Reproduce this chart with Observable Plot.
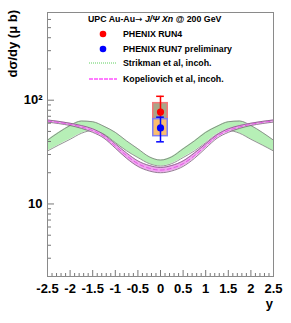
<!DOCTYPE html>
<html><head><meta charset="utf-8">
<script src="https://cdn.jsdelivr.net/npm/d3@7"></script>
<script src="https://cdn.jsdelivr.net/npm/@observablehq/plot@0.6"></script>
<style>
body{margin:0;background:#fff;}
#wrap{position:relative;width:291px;height:323px;overflow:hidden;}
#wrap svg{position:absolute;left:0;top:0;}
</style></head><body><div id="wrap"></div>
<script>
// rapidity grid of the theory bands
const rapidity     = [-2.5,-2.25,-2,-1.75,-1.5,-1.25,-1,-0.75,-0.5,-0.25,0,0.25,0.5,0.75,1,1.25,1.5,1.75,2,2.25,2.5];
// Strikman et al, incoh. (band low / high edge, μb)
const strikmanLo   = [32.4,37,42,48,51,47,39,32.5,28,24.5,23.2,24.5,28,32.5,39,47,51,48,42,37,32.4];
const strikmanHi   = [41.2,49,57,63,62,56,49,40.5,34,28.5,26.5,28.5,34,40.5,49,56,62,63,57,49,41.2];
// Kopeliovich et al, incoh.
const kopLo        = [61.5,59.5,57,53.5,49,43,34.5,27.5,23,20.8,20,20.8,23,27.5,34.5,43,49,53.5,57,59.5,61.5];
const kopHi        = [64.5,62.5,60,57,53,46.5,38,31,26,23.5,22.5,23.5,26,31,38,46.5,53,57,60,62.5,64.5];
// PHENIX measurements
const experiments  = ["PHENIX RUN4","PHENIX RUN7 preliminary"];
const expRapidity  = [0, 0];
const expValue     = [77, 54];
const expStatLo    = [47, 39.7];
const expStatHi    = [109, 68.6];
const expSysLo     = [65.6, 45];
const expSysHi     = [93.6, 65.6];
// axis ticks
const xTickLabels  = [-2.5,-2,-1.5,-1,-0.5,0,0.5,1,1.5,2,2.5];
const yTickLabels  = [10, 100];

const expColor  = ["#ff0000", "#0000ff"];
const boxFill   = ["#a9a688", "#fbbd6e"];
const boxStroke = ["#f27878", "#7f7ff5"];
const boxHalf = 0.16, capHalf = 0.085;

const strikman = rapidity.map((x,i)=>({x, lo:strikmanLo[i], hi:strikmanHi[i]}));
const kop = rapidity.map((x,i)=>({x, lo:kopLo[i], hi:kopHi[i], mid:Math.sqrt(kopLo[i]*kopHi[i])}));
const exps = experiments.map((name,i)=>({name, i, x:expRapidity[i], v:expValue[i], sl:expStatLo[i], sh:expStatHi[i], yl:expSysLo[i], yh:expSysHi[i]}));

const xMinor = d3.range(-25, 26).map(d=>d/10).filter(d=>!xTickLabels.some(t=>Math.abs(t-d)<1e-9));
const yMinor = [2,3,4,5,6,7,8,9,20,30,40,50,60,70,80,90,200,300,400,500,600,700];
const FH = 323-12-47, FW = 291-47-18;
const curve = "monotone-x";

const expMarks = [];
exps.forEach(e=>{
  const d=[e];
  expMarks.push(
    Plot.rect(d,{x1:r=>r.x-boxHalf, x2:r=>r.x+boxHalf, y1:"yl", y2:"yh", fill:boxFill[e.i], stroke:boxStroke[e.i], strokeWidth:1.5}),
    Plot.ruleX(d,{x:"x", y1:"sl", y2:"sh", stroke:expColor[e.i], strokeWidth:1.5}),
    Plot.ruleY(d,{y:"sh", x1:r=>r.x-capHalf, x2:r=>r.x+capHalf, stroke:expColor[e.i], strokeWidth:1.5}),
    Plot.ruleY(d,{y:"sl", x1:r=>r.x-capHalf, x2:r=>r.x+capHalf, stroke:expColor[e.i], strokeWidth:1.5}),
    Plot.dot(d,{x:"x", y:"v", r:3.6, fill:expColor[e.i]})
  );
});

const chart = Plot.plot({
  width:291, height:323, marginLeft:47, marginRight:18, marginTop:12, marginBottom:47,
  x:{domain:[-2.5,2.5]},
  y:{type:"log", domain:[2,700]},
  style:{fontFamily:"'Liberation Sans', Arial, sans-serif", fontWeight:"bold", fontSize:"13px", background:"transparent", color:"#000"},
  marks:[
    Plot.areaY(strikman,{x:"x", y1:"lo", y2:"hi", fill:"#b6efb6", curve}),
    Plot.lineY(strikman,{x:"x", y:"lo", stroke:"#7a7a7a", strokeWidth:0.8, curve}),
    Plot.lineY(strikman,{x:"x", y:"hi", stroke:"#7a7a7a", strokeWidth:0.8, curve}),
    Plot.areaY(kop,{x:"x", y1:"lo", y2:"hi", fill:"#f0a6f0", curve}),
    Plot.lineY(kop,{x:"x", y:"lo", stroke:"#7a5a7a", strokeWidth:0.8, curve}),
    Plot.lineY(kop,{x:"x", y:"hi", stroke:"#7a5a7a", strokeWidth:0.8, curve}),
    Plot.lineY(kop,{x:"x", y:"mid", stroke:"#e040e0", strokeWidth:0.8, strokeDasharray:"4,3", curve}),
    ...expMarks,
    Plot.tickX(xTickLabels,{x:d=>d, insetTop:FH-6, stroke:"#777"}),
    Plot.tickX(xMinor,{x:d=>d, insetTop:FH-3, stroke:"#777"}),
    Plot.tickY(yTickLabels,{y:d=>d, insetRight:FW-7, stroke:"#777"}),
    Plot.tickY(yMinor,{y:d=>d, insetRight:FW-4, stroke:"#777"}),
    Plot.frame({stroke:"#8a8a8a"}),
    Plot.axisX({ticks:xTickLabels, tickSize:0, tickPadding:7, tickFormat:d=>String(d), label:null}),
    Plot.axisY({ticks:yTickLabels, tickSize:0, tickPadding:5, tickFormat:d=>d===100?"10²":"10", label:null})
  ]
});
const wrap = document.getElementById("wrap");
wrap.appendChild(chart);

// overlay: axis titles and legend
const ov = d3.select(wrap).append("svg").attr("width",291).attr("height",323)
  .style("font-family","'Liberation Sans', Arial, sans-serif").style("font-weight","bold").style("pointer-events","none");
ov.append("text").attr("transform","translate(17,10) rotate(-90)").attr("text-anchor","end")
  .style("font-size","13px").text("dσ/dy (μ b)");
ov.append("text").attr("x",273).attr("y",308).attr("text-anchor","end").style("font-size","13px").text("y");

const t = ov.append("text").attr("x",88).attr("y",22).style("font-size","8.8px");
t.append("tspan").text("UPC Au-Au");
t.append("tspan").style("font-family","'DejaVu Sans'").style("font-weight","normal").text("→");
t.append("tspan").text(" ");
t.append("tspan").style("font-style","italic").text("J/Ψ Xn");
t.append("tspan").text(" @ 200 GeV");

const legendItems = ["PHENIX RUN4","PHENIX RUN7 preliminary","Strikman et al, incoh.","Kopeliovich et al, incoh."];
const legendY = [34, 49, 63, 79];
legendItems.forEach((s,i)=>{
  ov.append("text").attr("x",123).attr("y",legendY[i]+3).style("font-size","8.8px").text(s);
});
ov.append("circle").attr("cx",103).attr("cy",34).attr("r",3.3).attr("fill","#ff0000");
ov.append("circle").attr("cx",103).attr("cy",49).attr("r",3.3).attr("fill","#0000ff");
ov.append("line").attr("x1",89).attr("x2",117).attr("y1",63).attr("y2",63).attr("stroke","#5fcf5f").attr("stroke-width",1).attr("stroke-dasharray","1,1");
ov.append("line").attr("x1",89).attr("x2",117).attr("y1",79).attr("y2",79).attr("stroke","#ff50ff").attr("stroke-width",1.4).attr("stroke-dasharray","4,1");
</script></body></html>
